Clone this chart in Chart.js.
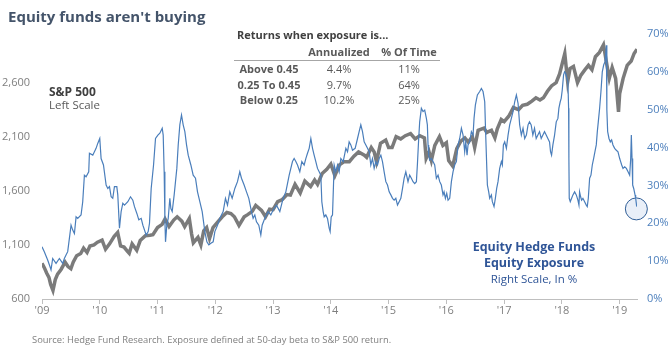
<!DOCTYPE html>
<html>
<head>
<meta charset="utf-8">
<script src="https://cdn.jsdelivr.net/npm/chart.js@4.4.1/dist/chart.umd.min.js"></script>
<style>
  body { margin: 0; background: #fff; font-family: 'Open Sans', sans-serif; }
  #wrap { position: relative; width: 672px; height: 353px; overflow: hidden; }
  #myChart { position: absolute; left: 0; top: 0; }
  .t { position: absolute; white-space: nowrap; line-height: 1; }
  #title { left: 8px; top: 9px; font-size: 15px; font-weight: 700; color: #44546a; }
  table.tb { position: absolute; left: 234px; font-size: 11px; color: #595959; border-collapse: collapse; }
  table.tb td { padding: 0; width: 70px; height: 15.7px; line-height: 15.7px; text-align: center; white-space: nowrap; }
  table.tb td.b { font-weight: 700; }
  .spx { left: 49px; font-size: 12px; color: #404040; }
  .eq { font-size: 12.5px; color: #2f5597; text-align: center; width: 160px; left: 454px; }
  #source { left: 32px; top: 335px; font-size: 9.4px; color: #7f7f7f; }
</style>
</head>
<body>
<div id="wrap">
  <canvas id="myChart" width="672" height="353"></canvas>
  <div class="t" id="title">Equity funds aren't buying</div>
  <div class="t" style="left:237px; top:29px; font-size:11px; font-weight:700; color:#404040;">Returns when exposure is...</div>
  <table class="tb" style="top:44px;">
    <tr><td></td><td class="b">Annualized</td><td class="b">% Of Time</td></tr>
  </table>
  <div style="position:absolute; left:234px; top:60px; width:206px; height:1px; background:#a6a6a6;"></div>
  <table class="tb" style="top:61px;">
    <tr><td class="b">Above 0.45</td><td>4.4%</td><td>11%</td></tr>
    <tr><td class="b">0.25 To 0.45</td><td>9.7%</td><td>64%</td></tr>
    <tr><td class="b">Below 0.25</td><td>10.2%</td><td>25%</td></tr>
  </table>
  <div class="t spx" style="top:86px; font-weight:700;">S&amp;P 500</div>
  <div class="t spx" style="top:99px; font-size:11.5px; color:#595959;">Left Scale</div>
  <div class="t eq" style="top:241px; font-weight:700;">Equity Hedge Funds</div>
  <div class="t eq" style="top:257px; font-weight:700;">Equity Exposure</div>
  <div class="t eq" style="top:273px; font-size:11.5px;">Right Scale, In %</div>
  <div class="t" id="source">Source: Hedge Fund Research. Exposure defined at 50-day beta to S&amp;P 500 return.</div>
</div>
<script>
// years shown on the x axis
const xTicks = [2009, 2010, 2011, 2012, 2013, 2014, 2015, 2016, 2017, 2018, 2019];
const leftTicks = [600, 1100, 1600, 2100, 2600];
const rightTicks = [0, 10, 20, 30, 40, 50, 60, 70];

// S&P 500 (left scale), dates as decimal years
const spxDates = [2009.00, 2009.04, 2009.08, 2009.12, 2009.15, 2009.19, 2009.23, 2009.27, 2009.33, 2009.40, 2009.45, 2009.50, 2009.54, 2009.60, 2009.67, 2009.72, 2009.78, 2009.83, 2009.90, 2009.96,
  2010.04, 2010.10, 2010.17, 2010.25, 2010.31, 2010.36, 2010.42, 2010.48, 2010.51, 2010.56, 2010.64, 2010.70, 2010.79, 2010.87, 2010.92,
  2011.00, 2011.08, 2011.13, 2011.20, 2011.28, 2011.34, 2011.42, 2011.47, 2011.55, 2011.59, 2011.62, 2011.70, 2011.75, 2011.80, 2011.85, 2011.90, 2011.96,
  2012.04, 2012.12, 2012.20, 2012.27, 2012.33, 2012.41, 2012.50, 2012.56, 2012.64, 2012.70, 2012.80, 2012.87, 2012.94,
  2013.00, 2013.08, 2013.16, 2013.24, 2013.30, 2013.38, 2013.47, 2013.55, 2013.65, 2013.72, 2013.77, 2013.85, 2013.93,
  2014.00, 2014.07, 2014.15, 2014.23, 2014.32, 2014.40, 2014.48, 2014.58, 2014.62, 2014.70, 2014.75, 2014.79, 2014.86, 2014.95,
  2015.00, 2015.06, 2015.13, 2015.21, 2015.29, 2015.38, 2015.46, 2015.54, 2015.62, 2015.65, 2015.70, 2015.74, 2015.80, 2015.88, 2015.94,
  2016.00, 2016.04, 2016.11, 2016.18, 2016.25, 2016.32, 2016.38, 2016.45, 2016.49, 2016.55, 2016.65, 2016.70, 2016.78, 2016.84, 2016.88, 2016.95,
  2017.00, 2017.08, 2017.16, 2017.25, 2017.32, 2017.40, 2017.48, 2017.55, 2017.62, 2017.68, 2017.75, 2017.82, 2017.90, 2017.96,
  2018.05, 2018.10, 2018.14, 2018.20, 2018.27, 2018.33, 2018.40, 2018.46, 2018.52, 2018.58, 2018.65, 2018.72, 2018.78, 2018.82, 2018.87, 2018.93, 2018.98,
  2019.00, 2019.06, 2019.13, 2019.20, 2019.25, 2019.30];
const spxValues = [931, 890, 840, 800, 735, 680, 780, 830, 873, 940, 900, 880, 940, 1000, 1020, 1070, 1030, 1090, 1100, 1125,
  1145, 1060, 1110, 1180, 1215, 1090, 1080, 1040, 1022, 1110, 1050, 1140, 1185, 1190, 1195,
  1260, 1290, 1340, 1270, 1330, 1360, 1320, 1270, 1345, 1200, 1120, 1170, 1100, 1230, 1260, 1160, 1260,
  1310, 1360, 1400, 1390, 1360, 1280, 1360, 1380, 1410, 1465, 1420, 1360, 1430,
  1426, 1500, 1520, 1565, 1560, 1660, 1580, 1690, 1640, 1700, 1660, 1760, 1800,
  1848, 1740, 1840, 1870, 1870, 1920, 1960, 1930, 1910, 2000, 1960, 1870, 2040, 2070,
  2000, 2000, 2100, 2080, 2110, 2130, 2080, 2110, 2090, 1900, 1960, 1880, 2020, 2100, 2020,
  2044, 1880, 1829, 1990, 2060, 2090, 2050, 2100, 2000, 2160, 2180, 2140, 2160, 2090, 2170, 2260,
  2240, 2290, 2370, 2350, 2390, 2400, 2430, 2460, 2440, 2460, 2520, 2570, 2600, 2680,
  2870, 2610, 2730, 2750, 2600, 2670, 2720, 2760, 2720, 2840, 2880, 2950, 2760, 2640, 2740, 2640, 2330,
  2500, 2640, 2760, 2800, 2870, 2910];

// Equity hedge fund equity exposure (right scale, %)
const expDates = [2009.000, 2009.040, 2009.098, 2009.139, 2009.156, 2009.185, 2009.243, 2009.301, 2009.358, 2009.387, 2009.416, 2009.445, 2009.474, 2009.503, 2009.532, 2009.561, 2009.590, 2009.618, 2009.676, 2009.705, 2009.734, 2009.763, 2009.809, 2009.821, 2009.879, 2009.936, 2009.965,
  2010.000, 2010.023, 2010.064, 2010.110, 2010.139, 2010.168, 2010.197, 2010.225, 2010.254, 2010.295, 2010.312, 2010.341, 2010.370, 2010.399, 2010.428, 2010.486, 2010.532, 2010.572, 2010.601, 2010.642, 2010.676, 2010.717, 2010.746, 2010.803, 2010.838, 2010.861, 2010.890, 2010.931, 2010.965,
  2011.006, 2011.040, 2011.081, 2011.098, 2011.115, 2011.127, 2011.138, 2011.161, 2011.185, 2011.213, 2011.231, 2011.254, 2011.288, 2011.311, 2011.334, 2011.358, 2011.386, 2011.415, 2011.444, 2011.473, 2011.502, 2011.531, 2011.577, 2011.617, 2011.657, 2011.692, 2011.732, 2011.773, 2011.819, 2011.854, 2011.888, 2011.923, 2011.963, 2011.992,
  2012.038, 2012.078, 2012.136, 2012.176, 2012.211, 2012.251, 2012.292, 2012.338, 2012.384, 2012.424, 2012.453, 2012.499, 2012.540, 2012.580, 2012.626, 2012.655, 2012.684, 2012.713, 2012.753, 2012.788, 2012.811, 2012.857, 2012.915, 2012.961,
  2013.001, 2013.059, 2013.117, 2013.174, 2013.221, 2013.279, 2013.336, 2013.365, 2013.394, 2013.423, 2013.463, 2013.498, 2013.538, 2013.567, 2013.596, 2013.625, 2013.654, 2013.683, 2013.711, 2013.740, 2013.769, 2013.798, 2013.827, 2013.844, 2013.867, 2013.885, 2013.913, 2013.942, 2013.971, 2013.988,
  2014.006, 2014.029, 2014.046, 2014.058, 2014.087, 2014.115, 2014.144, 2014.173, 2014.214, 2014.260, 2014.289, 2014.317, 2014.346, 2014.375, 2014.421, 2014.462, 2014.490, 2014.519, 2014.548, 2014.577, 2014.606, 2014.635, 2014.664, 2014.692, 2014.721, 2014.750, 2014.779, 2014.808, 2014.837, 2014.866, 2014.894, 2014.923, 2014.952, 2014.981,
  2015.010, 2015.039, 2015.068, 2015.096, 2015.125, 2015.154, 2015.183, 2015.212, 2015.241, 2015.269, 2015.298, 2015.336, 2015.365, 2015.394, 2015.423, 2015.452, 2015.481, 2015.498, 2015.521, 2015.538, 2015.567, 2015.596, 2015.625, 2015.654, 2015.671, 2015.683, 2015.694, 2015.711, 2015.740, 2015.769, 2015.798, 2015.827, 2015.856, 2015.885, 2015.913, 2015.942, 2015.960, 2015.983,
  2016.006, 2016.029, 2016.058, 2016.087, 2016.115, 2016.144, 2016.173, 2016.202, 2016.231, 2016.260, 2016.289, 2016.317, 2016.335, 2016.358, 2016.375, 2016.404, 2016.433, 2016.462, 2016.479, 2016.502, 2016.537, 2016.577, 2016.606, 2016.635, 2016.664, 2016.681, 2016.698, 2016.710, 2016.733, 2016.750, 2016.779, 2016.796, 2016.825, 2016.848, 2016.871, 2016.894, 2016.923, 2016.952, 2016.969, 2016.987,
  2017.010, 2017.039, 2017.068, 2017.096, 2017.125, 2017.154, 2017.183, 2017.212, 2017.241, 2017.269, 2017.298, 2017.327, 2017.356, 2017.385, 2017.414, 2017.439, 2017.468, 2017.497, 2017.526, 2017.555, 2017.584, 2017.613, 2017.642, 2017.671, 2017.699, 2017.728, 2017.757, 2017.786, 2017.803, 2017.821, 2017.844, 2017.873, 2017.902, 2017.931, 2017.948, 2017.971, 2017.988,
  2018.006, 2018.029, 2018.046, 2018.064, 2018.087, 2018.104, 2018.116, 2018.121, 2018.127, 2018.145, 2018.168, 2018.191, 2018.220, 2018.249, 2018.277, 2018.295, 2018.306, 2018.324, 2018.341, 2018.364, 2018.393, 2018.422, 2018.439, 2018.457, 2018.480, 2018.503, 2018.526, 2018.549, 2018.572, 2018.595, 2018.613, 2018.630, 2018.653, 2018.676, 2018.699, 2018.723, 2018.746, 2018.770, 2018.778, 2018.792, 2018.815, 2018.838, 2018.861, 2018.884, 2018.913, 2018.942, 2018.971,
  2019.000, 2019.017, 2019.035, 2019.058, 2019.087, 2019.116, 2019.145, 2019.173, 2019.191, 2019.202, 2019.214, 2019.225, 2019.243, 2019.266, 2019.277, 2019.295];
const expValues = [13.8, 12.5, 10.3, 8.5, 7.7, 10.7, 9.4, 10.7, 9.4, 10.7, 11.6, 12.5, 16.0, 19.5, 18.2, 17.3, 21.7, 21.3, 22.2, 25.7, 32.7, 32.3, 33.6, 38.5, 38.0, 39.8, 41.1,
  42.4, 37.1, 35.4, 30.1, 29.2, 29.7, 27.0, 26.6, 29.7, 29.7, 27.5, 18.7, 23.1, 25.3, 24.8, 25.7, 27.0, 26.1, 24.4, 22.6, 20.9, 21.3, 19.5, 16.9, 17.8, 20.0, 29.2, 35.4, 42.4,
  43.3, 43.8, 45.1, 43.3, 33.6, 21.3, 15.1, 19.5, 21.3, 26.6, 23.9, 23.1, 27.5, 31.0, 34.5, 40.7, 46.0, 48.6, 46.0, 44.2, 40.7, 38.0, 35.4, 32.7, 31.9, 28.3, 25.7, 23.1, 17.8, 15.1, 14.3, 14.7, 15.1, 17.8,
  19.5, 21.3, 23.1, 26.6, 24.8, 28.3, 26.6, 29.2, 31.0, 33.6, 31.9, 30.1, 28.3, 26.6, 23.1, 21.3, 22.2, 20.4, 19.5, 16.9, 19.5, 21.3, 23.1, 22.2,
  23.5, 24.8, 23.1, 26.6, 28.3, 32.7, 36.3, 37.1, 36.3, 35.4, 33.6, 36.3, 35.4, 37.1, 38.5, 39.8, 42.4, 39.8, 38.0, 36.3, 34.5, 33.6, 32.7, 25.7, 23.1, 21.7, 22.2, 21.3, 18.7, 17.8,
  21.7, 22.2, 30.1, 35.4, 33.6, 35.4, 33.6, 37.1, 36.3, 39.8, 38.9, 41.5, 40.7, 39.3, 39.8, 42.4, 44.2, 46.0, 44.2, 41.5, 40.7, 39.8, 38.9, 35.4, 37.1, 34.5, 36.3, 35.4, 37.1, 38.0, 36.3, 33.6, 31.0, 30.1,
  28.3, 27.5, 26.6, 26.1, 26.6, 24.8, 25.7, 26.6, 29.2, 31.9, 33.6, 31.0, 32.7, 31.9, 31.0, 30.5, 31.0, 35.4, 42.4, 46.8, 50.4, 49.5, 49.9, 47.7, 46.0, 40.7, 38.0, 36.7, 37.1, 36.3, 35.4, 31.9, 32.7, 31.0, 30.1, 27.5, 28.3, 26.6,
  27.9, 26.1, 26.6, 31.0, 33.6, 35.4, 36.3, 40.7, 42.4, 45.1, 43.3, 38.9, 41.5, 38.0, 40.7, 41.5, 44.2, 43.3, 47.7, 51.2, 53.9, 54.8, 55.6, 54.8, 52.1, 43.3, 35.4, 30.1, 28.3, 26.6, 27.5, 25.7, 24.4, 26.6, 29.2, 31.0, 34.5, 36.3, 35.4, 40.7,
  41.5, 39.8, 43.3, 46.0, 47.7, 49.5, 52.1, 53.9, 51.7, 46.0, 43.3, 45.1, 42.4, 43.3, 46.0, 46.8, 46.0, 43.3, 45.1, 42.4, 43.3, 44.2, 42.4, 43.3, 44.2, 43.3, 42.4, 41.5, 38.9, 38.0, 40.7, 43.3, 46.8, 47.7, 50.4, 52.1, 53.0,
  55.2, 59.2, 60.0, 59.6, 58.3, 57.4, 50.4, 37.1, 26.6, 25.7, 26.6, 27.5, 28.3, 27.5, 26.1, 24.8, 28.3, 27.0, 26.1, 26.6, 25.7, 24.8, 24.4, 26.6, 31.9, 32.7, 35.4, 37.1, 38.9, 40.7, 44.2, 46.8, 50.4, 54.8, 60.0, 61.8, 62.7, 67.0, 50.0, 44.2, 42.4, 41.5, 42.0, 40.7, 39.8, 39.3, 38.9,
  37.1, 36.3, 35.4, 34.5, 34.9, 34.5, 33.6, 32.7, 37.1, 43.3, 37.1, 30.1, 29.2, 27.5, 26.6, 24.4];

// highlighted latest reading
const circleX = [2019.289];
const circleY = [23.8];

const toPoints = (xs, ys) => xs.map((x, i) => ({ x: x, y: ys[i] }));
const noPad = s => { s.paddingTop = 0; s.paddingBottom = 0; };

let ctx = document.getElementById('myChart').getContext('2d');
let chart = new Chart(ctx, {
  type: 'line',
  data: {
    datasets: [{
      label: 'Exposure',
      data: toPoints(expDates, expValues),
      yAxisID: 'yR',
      borderColor: '#4a7ebb',
      borderWidth: 1.2,
      pointRadius: 0,
      tension: 0,
      order: 1
    }, {
      label: 'S&P 500',
      data: toPoints(spxDates, spxValues),
      yAxisID: 'yL',
      borderColor: '#7b7b7b',
      borderWidth: 3.5,
      pointRadius: 0,
      tension: 0,
      order: 2
    }, {
      label: 'Latest',
      data: toPoints(circleX, circleY),
      yAxisID: 'yR',
      showLine: false,
      clip: false,
      pointRadius: 11,
      backgroundColor: '#e9eff8',
      borderColor: '#2f5d96',
      borderWidth: 1,
      order: 3
    }]
  },
  options: {
    responsive: false,
    animation: false,
    layout: { padding: { top: 34, left: 0, right: 0, bottom: 0 } },
    plugins: { legend: { display: false }, tooltip: { enabled: false } },
    scales: {
      x: {
        type: 'linear',
        min: 2009,
        max: 2019.3,
        afterBuildTicks: s => { s.ticks = xTicks.map(v => ({ value: v })); },
        afterFit: s => { s.height = 54; s.paddingLeft = 0; s.paddingRight = 0; },
        grid: { drawOnChartArea: false, drawTicks: true, tickLength: 5, color: '#bfbfbf' },
        border: { display: true, color: '#bfbfbf' },
        ticks: {
          padding: 0,
          color: '#7f7f7f',
          font: { family: 'Open Sans', size: 11 },
          maxRotation: 0,
          callback: v => "'" + String(v).slice(2)
        }
      },
      yL: {
        position: 'left',
        min: 600,
        max: 3050,
        afterBuildTicks: s => { s.ticks = leftTicks.map(v => ({ value: v })); },
        afterFit: s => { s.width = 42; noPad(s); },
        grid: { display: false, drawTicks: false },
        border: { display: false },
        ticks: {
          padding: 12,
          color: '#7f7f7f',
          font: { family: 'Open Sans', size: 11 },
          callback: v => v.toLocaleString('en-US')
        }
      },
      yR: {
        position: 'right',
        min: 0,
        max: 70,
        afterBuildTicks: s => { s.ticks = rightTicks.map(v => ({ value: v })); },
        afterFit: s => { s.width = 35; noPad(s); },
        grid: { display: false, drawTicks: false },
        border: { display: false },
        ticks: {
          padding: 10,
          color: '#4f81bd',
          font: { family: 'Open Sans', size: 11 },
          callback: v => v + '%'
        }
      }
    }
  }
});
</script>
</body>
</html>
